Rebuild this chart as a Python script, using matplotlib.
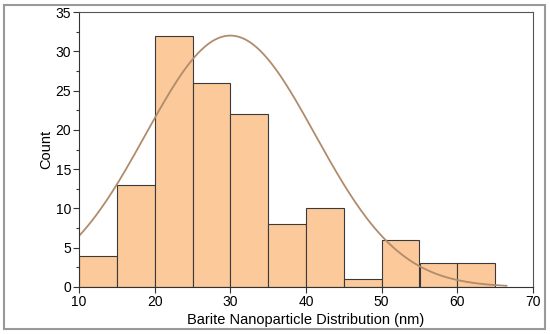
import numpy as np
import matplotlib.pyplot as plt
from matplotlib.patches import Rectangle
from matplotlib.ticker import MultipleLocator

plt.rcParams['font.family'] = ['Liberation Sans', 'DejaVu Sans']

# histogram
bin_edges = [10, 15, 20, 25, 30, 35, 40, 45, 50, 55, 60, 65]
counts = [4, 13, 32, 26, 22, 8, 10, 1, 6, 3, 3]

# normal fit curve parameters
fit_center = 30.0
fit_sigma = 11.2
fit_peak = 32.0
fit_range = (10.0, 66.5)

fig = plt.figure(figsize=(5.5, 3.34), dpi=100)
ax = fig.add_axes([79 / 550, 1 - 287 / 334, (533 - 79) / 550, (287 - 12) / 334])

ax.hist(bin_edges[:-1], bins=bin_edges, weights=counts,
        color='#fbc99a', edgecolor='#3a3a3a', linewidth=0.8)

xs = np.linspace(fit_range[0], fit_range[1], 300)
ys = fit_peak * np.exp(-(xs - fit_center) ** 2 / (2 * fit_sigma ** 2))
ax.plot(xs, ys, color='#b08c6c', linewidth=1.3)

ax.set_xlim(10, 70)
ax.set_ylim(0, 35)
ax.xaxis.set_major_locator(MultipleLocator(10))
ax.yaxis.set_major_locator(MultipleLocator(5))
ax.yaxis.set_minor_locator(MultipleLocator(2.5))
ax.tick_params(axis='both', which='major', direction='out', length=4,
               width=0.8, labelsize=10, color='#333333', pad=1.5)
ax.tick_params(axis='y', which='minor', direction='out', length=2.5,
               width=0.8, color='#333333')
for side in ['left', 'bottom']:
    ax.spines[side].set_color('#333333')
for side in ['top', 'right']:
    ax.spines[side].set_color('#555555')

ax.set_xlabel('Barite Nanoparticle Distribution (nm)', fontsize=10.5, labelpad=3)
ax.set_ylabel('Count', fontsize=10.5, labelpad=2)

fig.patches.append(Rectangle((4 / 550, 5 / 334), 541 / 550, 324 / 334,
                             transform=fig.transFigure, fill=False,
                             edgecolor='#999999', linewidth=1.5))

fig.savefig('out.png', dpi=100)
